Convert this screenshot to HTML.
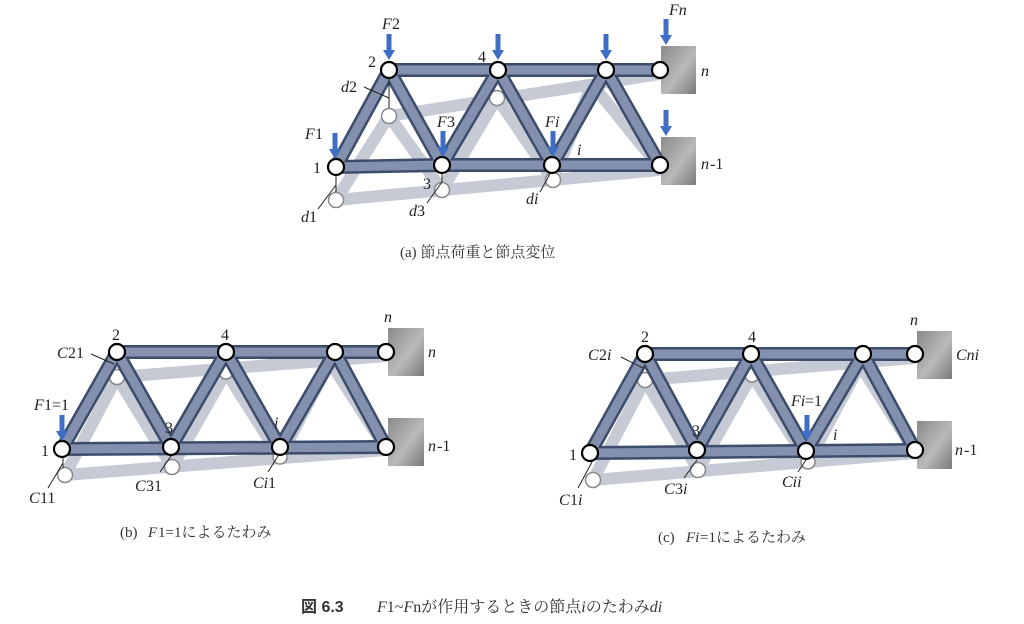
<!DOCTYPE html>
<html><head><meta charset="utf-8"><style>
html,body{margin:0;padding:0;background:#fff;}
svg{display:block;}
text{font-family:"Liberation Serif","Noto Serif CJK SC",serif;font-size:16px;fill:#222;}
.it{font-style:italic;}
.cap{font-size:15px;fill:#333;}
.g line{stroke:#c3c8d3;stroke-width:12;stroke-linecap:butt;opacity:.95}
.mo line{stroke:#3c4d6b;stroke-width:14;}
.mi line{stroke:#8391ae;stroke-width:9;}
.nd circle{fill:#fff;stroke:#000;stroke-width:2.2;}
.gn circle{fill:#fff;stroke:#888;stroke-width:1.5;}
.lead{stroke:#222;stroke-width:1;}
</style></head><body>
<svg width="1024" height="624" viewBox="0 0 1024 624" xmlns="http://www.w3.org/2000/svg">
<defs>
<linearGradient id="wg" x1="0" y1="0" x2="1" y2="1">
<stop offset="0" stop-color="#8a8a8a"/><stop offset="0.55" stop-color="#b9b9b9"/><stop offset="1" stop-color="#7a7a7a"/></linearGradient>
<g id="arr"><rect x="-2.5" y="0" width="5" height="18" fill="#3f6fc4"/><polygon points="-6,16 6,16 0,26" fill="#3f6fc4"/></g>
</defs>

<!-- ===== (a) ===== -->
<rect x="661" y="46" width="35" height="48" fill="url(#wg)"/>
<rect x="661" y="137" width="35" height="48" fill="url(#wg)"/>
<g class="g">
<line x1="336" y1="200" x2="660" y2="170"/><line x1="389" y1="116" x2="660" y2="74"/>
<line x1="336" y1="200" x2="389" y2="116"/><line x1="389" y1="116" x2="442" y2="190"/>
<line x1="442" y1="190" x2="497" y2="98"/><line x1="497" y1="98" x2="553" y2="180"/>
<line x1="553" y1="180" x2="592" y2="84"/><line x1="592" y1="84" x2="660" y2="168"/>
</g>
<g class="gn"><circle cx="336" cy="200" r="7.5"/><circle cx="389" cy="116" r="7.5"/><circle cx="442" cy="190" r="7.5"/><circle cx="497" cy="98" r="7.5"/><circle cx="553" cy="180" r="7.5"/></g>
<g class="mo">
<line x1="336" y1="167" x2="442" y2="165"/><line x1="442" y1="165" x2="552" y2="165"/><line x1="552" y1="165" x2="660" y2="165"/>
<line x1="389" y1="70" x2="660" y2="70"/>
<line x1="336" y1="167" x2="389" y2="70"/><line x1="389" y1="70" x2="442" y2="165"/><line x1="442" y1="165" x2="498" y2="70"/>
<line x1="498" y1="70" x2="552" y2="165"/><line x1="552" y1="165" x2="606" y2="70"/><line x1="606" y1="70" x2="660" y2="165"/>
</g>
<g class="mi">
<line x1="336" y1="167" x2="442" y2="165"/><line x1="442" y1="165" x2="552" y2="165"/><line x1="552" y1="165" x2="660" y2="165"/>
<line x1="389" y1="70" x2="660" y2="70"/>
<line x1="336" y1="167" x2="389" y2="70"/><line x1="389" y1="70" x2="442" y2="165"/><line x1="442" y1="165" x2="498" y2="70"/>
<line x1="498" y1="70" x2="552" y2="165"/><line x1="552" y1="165" x2="606" y2="70"/><line x1="606" y1="70" x2="660" y2="165"/>
</g>
<g class="nd"><circle cx="336" cy="167" r="8"/><circle cx="389" cy="70" r="8"/><circle cx="442" cy="165" r="8"/><circle cx="498" cy="70" r="8"/><circle cx="552" cy="165" r="8"/><circle cx="606" cy="70" r="8"/><circle cx="660" cy="70" r="8"/><circle cx="660" cy="165" r="8"/></g>
<use href="#arr" x="389" y="34"/><use href="#arr" x="498" y="34"/><use href="#arr" x="606" y="34"/><use href="#arr" x="666" y="19"/><use href="#arr" x="666" y="110"/>
<use href="#arr" x="335" y="133"/><use href="#arr" x="443" y="131"/><use href="#arr" x="553" y="131"/>
<line class="lead" x1="336" y1="175" x2="336" y2="192"/><line class="lead" x1="336" y1="185" x2="318" y2="209"/>
<line class="lead" x1="389" y1="78" x2="389" y2="108"/><line class="lead" x1="389" y1="98" x2="364" y2="87"/>
<line class="lead" x1="442" y1="173" x2="442" y2="182"/><line class="lead" x1="442" y1="182" x2="427" y2="203"/>
<line class="lead" x1="550" y1="174" x2="540" y2="192"/>
<text x="382" y="29" class="it">F</text><text x="392" y="29">2</text>
<text x="368" y="67">2</text><text x="478" y="62">4</text>
<text x="341" y="92" class="it">d</text><text x="349" y="92">2</text>
<text x="305" y="139" class="it">F</text><text x="315" y="139">1</text>
<text x="313" y="173">1</text>
<text x="437" y="127" class="it">F</text><text x="447" y="127">3</text>
<text x="545" y="127" class="it">F</text><text x="555" y="127" class="it">i</text>
<text x="577" y="155" class="it">i</text>
<text x="423" y="189">3</text>
<text x="301" y="222" class="it">d</text><text x="309" y="222">1</text>
<text x="409" y="216" class="it">d</text><text x="417" y="216">3</text>
<text x="526" y="204" class="it">di</text>
<text x="669" y="15" class="it">Fn</text>
<text x="701" y="76" class="it">n</text>
<text x="701" y="169" class="it">n</text><text x="710" y="169">-1</text>
<text x="400" y="257" class="cap">(a) 節点荷重と節点変位</text>

<!-- ===== (b) ===== -->
<rect x="388" y="328" width="36" height="48" fill="url(#wg)"/>
<rect x="388" y="418" width="36" height="48" fill="url(#wg)"/>
<g class="g">
<line x1="65" y1="475" x2="386" y2="450"/><line x1="117" y1="377" x2="386" y2="356"/>
<line x1="65" y1="475" x2="117" y2="377"/><line x1="117" y1="377" x2="172" y2="467"/>
<line x1="172" y1="467" x2="226" y2="372"/><line x1="226" y1="372" x2="280" y2="457"/>
<line x1="280" y1="457" x2="330" y2="362"/><line x1="330" y1="362" x2="386" y2="449"/>
</g>
<g class="gn"><circle cx="65" cy="475" r="7.5"/><circle cx="117" cy="377" r="7.5"/><circle cx="172" cy="467" r="7.5"/><circle cx="226" cy="372" r="7"/><circle cx="280" cy="457" r="7"/></g>
<g class="mo">
<line x1="62" y1="449" x2="386" y2="447"/><line x1="117" y1="352" x2="386" y2="352"/>
<line x1="62" y1="449" x2="117" y2="352"/><line x1="117" y1="352" x2="171" y2="447"/><line x1="171" y1="447" x2="226" y2="352"/>
<line x1="226" y1="352" x2="280" y2="447"/><line x1="280" y1="447" x2="335" y2="352"/><line x1="335" y1="352" x2="386" y2="447"/>
</g>
<g class="mi">
<line x1="62" y1="449" x2="386" y2="447"/><line x1="117" y1="352" x2="386" y2="352"/>
<line x1="62" y1="449" x2="117" y2="352"/><line x1="117" y1="352" x2="171" y2="447"/><line x1="171" y1="447" x2="226" y2="352"/>
<line x1="226" y1="352" x2="280" y2="447"/><line x1="280" y1="447" x2="335" y2="352"/><line x1="335" y1="352" x2="386" y2="447"/>
</g>
<g class="nd"><circle cx="62" cy="449" r="8"/><circle cx="117" cy="352" r="8"/><circle cx="171" cy="447" r="8"/><circle cx="226" cy="352" r="8"/><circle cx="280" cy="447" r="8"/><circle cx="335" cy="352" r="8"/><circle cx="386" cy="352" r="8"/><circle cx="386" cy="447" r="8"/></g>
<use href="#arr" x="62" y="415"/>
<line class="lead" x1="63" y1="457" x2="63" y2="468"/><line class="lead" x1="63" y1="463" x2="48" y2="488"/>
<line class="lead" x1="91" y1="354" x2="114" y2="364"/>
<line class="lead" x1="171" y1="456" x2="160" y2="472"/>
<line class="lead" x1="278" y1="456" x2="268" y2="472"/>
<text x="112" y="340">2</text><text x="221" y="340">4</text>
<text x="57" y="358" class="it">C</text><text x="68" y="358">21</text>
<text x="34" y="410" class="it">F</text><text x="44" y="410">1=1</text>
<text x="41" y="456">1</text>
<text x="165" y="433">3</text>
<text x="274" y="428" class="it">i</text>
<text x="29" y="503" class="it">C</text><text x="40" y="503">11</text>
<text x="135" y="491" class="it">C</text><text x="146" y="491">31</text>
<text x="253" y="488" class="it">Ci</text><text x="268" y="488">1</text>
<text x="384" y="322" class="it">n</text>
<text x="428" y="357" class="it">n</text>
<text x="428" y="451" class="it">n</text><text x="437" y="451">-1</text>
<text x="120" y="537" class="cap">(b) </text><text x="148" y="537" class="cap it">F</text><text x="158" y="537" class="cap">1=1によるたわみ</text>

<!-- ===== (c) ===== -->
<rect x="917" y="331" width="35" height="48" fill="url(#wg)"/>
<rect x="917" y="421" width="35" height="48" fill="url(#wg)"/>
<g class="g">
<line x1="593" y1="480" x2="915" y2="453"/><line x1="645" y1="380" x2="915" y2="358"/>
<line x1="593" y1="480" x2="645" y2="380"/><line x1="645" y1="380" x2="698" y2="470"/>
<line x1="698" y1="470" x2="752" y2="375"/><line x1="752" y1="375" x2="808" y2="462"/>
<line x1="808" y1="462" x2="860" y2="365"/><line x1="860" y1="365" x2="915" y2="452"/>
</g>
<g class="gn"><circle cx="593" cy="480" r="7.5"/><circle cx="645" cy="380" r="7.5"/><circle cx="698" cy="470" r="7.5"/><circle cx="752" cy="375" r="7"/><circle cx="808" cy="462" r="7"/></g>
<g class="mo">
<line x1="590" y1="453" x2="915" y2="450"/><line x1="645" y1="354" x2="915" y2="354"/>
<line x1="590" y1="453" x2="645" y2="354"/><line x1="645" y1="354" x2="697" y2="450"/><line x1="697" y1="450" x2="751" y2="354"/>
<line x1="751" y1="354" x2="806" y2="451"/><line x1="806" y1="451" x2="863" y2="354"/><line x1="863" y1="354" x2="915" y2="450"/>
</g>
<g class="mi">
<line x1="590" y1="453" x2="915" y2="450"/><line x1="645" y1="354" x2="915" y2="354"/>
<line x1="590" y1="453" x2="645" y2="354"/><line x1="645" y1="354" x2="697" y2="450"/><line x1="697" y1="450" x2="751" y2="354"/>
<line x1="751" y1="354" x2="806" y2="451"/><line x1="806" y1="451" x2="863" y2="354"/><line x1="863" y1="354" x2="915" y2="450"/>
</g>
<g class="nd"><circle cx="590" cy="453" r="8"/><circle cx="645" cy="354" r="8"/><circle cx="697" cy="450" r="8"/><circle cx="751" cy="354" r="8"/><circle cx="806" cy="451" r="8"/><circle cx="863" cy="354" r="8"/><circle cx="915" cy="354" r="8"/><circle cx="915" cy="450" r="8"/></g>
<use href="#arr" x="807" y="415"/>
<line class="lead" x1="592" y1="462" x2="578" y2="488"/>
<line class="lead" x1="621" y1="357" x2="643" y2="368"/>
<line class="lead" x1="697" y1="460" x2="684" y2="478"/>
<line class="lead" x1="806" y1="460" x2="798" y2="472"/>
<text x="641" y="342">2</text><text x="748" y="342">4</text>
<text x="588" y="360" class="it">C</text><text x="599" y="360">2</text><text x="607" y="360" class="it">i</text>
<text x="791" y="406" class="it">Fi</text><text x="805" y="406">=1</text>
<text x="569" y="460">1</text>
<text x="692" y="436">3</text>
<text x="833" y="440" class="it">i</text>
<text x="559" y="505" class="it">C</text><text x="570" y="505">1</text><text x="578" y="505" class="it">i</text>
<text x="664" y="494" class="it">C</text><text x="675" y="494">3</text><text x="683" y="494" class="it">i</text>
<text x="782" y="487" class="it">Cii</text>
<text x="910" y="325" class="it">n</text>
<text x="956" y="360" class="it">Cni</text>
<text x="955" y="455" class="it">n</text><text x="964" y="455">-1</text>
<text x="658" y="542" class="cap">(c) </text><text x="686" y="542" class="cap it">Fi</text><text x="700" y="542" class="cap">=1によるたわみ</text>

<!-- main caption -->
<text x="301" y="612" style="font-family:'Liberation Sans','Noto Sans CJK JP',sans-serif;font-weight:bold;font-size:16px;fill:#333">図 6.3</text>
<text x="377" y="612" style="font-size:16px;fill:#333"><tspan class="it">F</tspan>1~<tspan class="it">F</tspan>nが作用するときの節点<tspan class="it">i</tspan>のたわみ<tspan class="it">di</tspan></text>
</svg>
</body></html>
